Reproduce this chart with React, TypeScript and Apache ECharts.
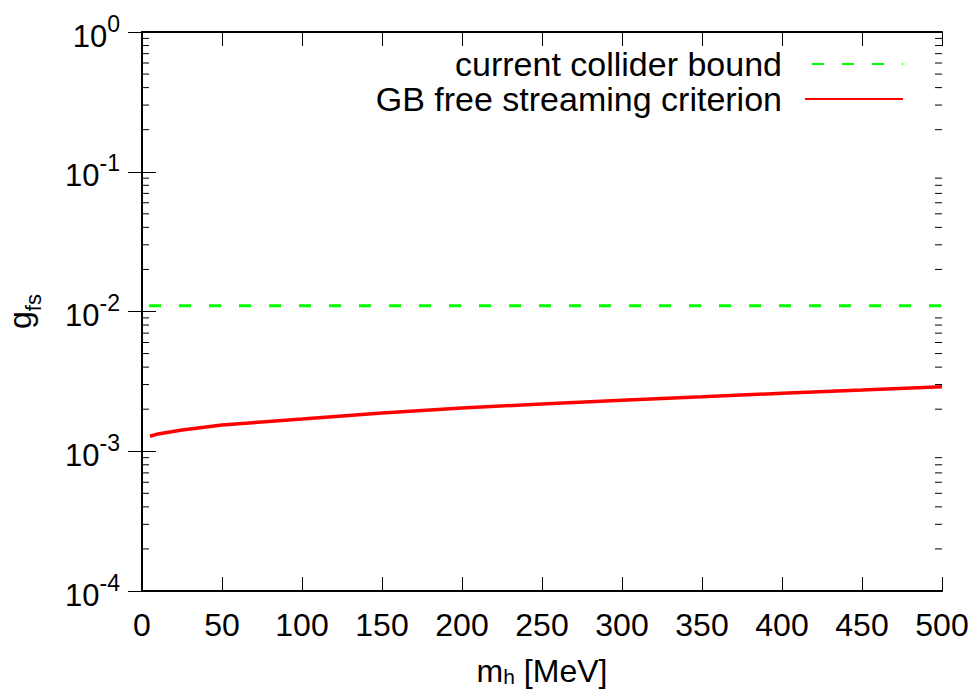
import React, { useEffect, useRef } from "react";
import * as echarts from "echarts";

const FONT = "'Liberation Sans', Arial, Helvetica, sans-serif";

// x values (m_h in MeV)
const colliderX = [0, 500];
const colliderBound = [0.011, 0.011];

const massMeV = [5, 10, 25, 50, 75, 100, 150, 200, 250, 300, 350, 400, 450, 500];
const gbCriterion = [
  0.00128, 0.00133, 0.00142, 0.00154, 0.00162, 0.0017, 0.00188, 0.00204,
  0.00218, 0.00232, 0.00245, 0.0026, 0.00274, 0.0029,
];

const xTicks = [0, 50, 100, 150, 200, 250, 300, 350, 400, 450, 500];
const yDecades = [-4, -3, -2, -1, 0];

const seriesNames = ["current collider bound", "GB free streaming criterion"];

export default function App() {
  const ref = useRef<HTMLDivElement>(null);

  useEffect(() => {
    if (!ref.current) return;
    const chart = echarts.init(ref.current, undefined, { renderer: "svg" });

    const yLabelRich = {
      b: { fontSize: 31, fontFamily: FONT, color: "#000", lineHeight: 40, padding: [8, 0, 0, 0] },
      s: { fontSize: 23, fontFamily: FONT, color: "#000", verticalAlign: "top", lineHeight: 23 },
    };

    const axisLine = { show: true, lineStyle: { color: "#000", width: 2 } };
    const axisTick = { show: true, inside: true, length: 14, lineStyle: { color: "#000", width: 1 } };

    const legendCommon = {
      right: 67,
      align: "right",
      itemWidth: 98,
      itemHeight: 2,
      itemStyle: { opacity: 0 },
      textStyle: { fontSize: 34, fontFamily: FONT, color: "#000", padding: [0, 18, 0, 0] },
      selectedMode: false,
    };

    const option: any = {
      animation: false,
      backgroundColor: "#fff",
      grid: { left: 142, right: 34, top: 32, bottom: 99, containLabel: false, outerBoundsMode: "none" },
      xAxis: [
        {
          type: "value",
          min: xTicks[0],
          max: xTicks[xTicks.length - 1],
          interval: 50,
          position: "bottom",
          axisLine,
          axisTick,
          splitLine: { show: false },
          axisLabel: { fontSize: 32, fontFamily: FONT, color: "#000", margin: 18 },
          name: "{m|m}{s|h}{m| [MeV]}",
          nameLocation: "middle",
          nameGap: 64,
          nameTextStyle: {
            rich: {
              m: { fontSize: 32, fontFamily: FONT, color: "#000", lineHeight: 30, verticalAlign: "top" },
              s: { fontSize: 21, fontFamily: FONT, color: "#000", verticalAlign: "bottom", lineHeight: 21, padding: [0, 0, -2, 0] },
            },
          },
        },
        {
          type: "value",
          min: xTicks[0],
          max: xTicks[xTicks.length - 1],
          interval: 50,
          position: "top",
          axisLine,
          axisTick,
          splitLine: { show: false },
          axisLabel: { show: false },
        },
      ],
      yAxis: [
        {
          type: "log",
          logBase: 10,
          min: 1e-4,
          max: 1,
          position: "left",
          axisLine,
          axisTick,
          splitLine: { show: false },
          axisLabel: {
            margin: 22,
            formatter: (v: number) => {
              const e = Math.round(Math.log10(v));
              return "{b|10}{s|" + e + "}";
            },
            rich: yLabelRich,
          },
          name: "{g|g}{s|fs}",
          nameLocation: "middle",
          nameRotate: 90,
          nameGap: 104,
          nameTextStyle: {
            rich: {
              g: { fontSize: 32, fontFamily: FONT, color: "#000", lineHeight: 34, verticalAlign: "top" },
              s: { fontSize: 22, fontFamily: FONT, color: "#000", verticalAlign: "bottom", lineHeight: 22, padding: [0, 0, -6, 0] },
            },
          },
        },
        {
          type: "log",
          logBase: 10,
          min: 1e-4,
          max: 1,
          position: "right",
          axisLine,
          axisTick,
          splitLine: { show: false },
          axisLabel: { show: false },
        },
      ],
      legend: [
        { ...legendCommon, data: [seriesNames[0]], top: 42 },
        { ...legendCommon, data: [seriesNames[1]], top: 77 },
      ],
      series: [
        {
          name: seriesNames[0],
          type: "line",
          xAxisIndex: 0,
          yAxisIndex: 0,
          data: colliderX.map((x, i) => [x, colliderBound[i]]),
          symbol: "none",
          showSymbol: false,
          itemStyle: { color: "#00ff00" },
          lineStyle: { color: "#00ff00", width: 3, type: [12, 18], dashOffset: 23 },
        },
        {
          name: seriesNames[1],
          type: "line",
          xAxisIndex: 0,
          yAxisIndex: 0,
          data: massMeV.map((x, i) => [x, gbCriterion[i]]),
          symbol: "none",
          showSymbol: false,
          smooth: false,
          itemStyle: { color: "#ff0000" },
          lineStyle: { color: "#ff0000", width: 3.5 },
        },
      ],
    };

    chart.setOption(option);

    // Minor log ticks (2..9 in each decade), placed through the axis scale
    const xl = chart.convertToPixel({ xAxisIndex: 0 }, xTicks[0]) as number;
    const xr = chart.convertToPixel({ xAxisIndex: 0 }, xTicks[xTicks.length - 1]) as number;
    const minor: any[] = [];
    for (let d = 0; d < yDecades.length - 1; d++) {
      for (let k = 2; k <= 9; k++) {
        const v = k * Math.pow(10, yDecades[d]);
        const py = chart.convertToPixel({ yAxisIndex: 0 }, v) as number;
        minor.push({
          type: "line",
          shape: { x1: xl, y1: py, x2: xl + 7, y2: py },
          style: { stroke: "#000", lineWidth: 1 },
          silent: true,
        });
        minor.push({
          type: "line",
          shape: { x1: xr - 7, y1: py, x2: xr, y2: py },
          style: { stroke: "#000", lineWidth: 1 },
          silent: true,
        });
      }
    }
    chart.setOption({ graphic: minor });

    return () => chart.dispose();
  }, []);

  return (
    <div
      ref={ref}
      style={{ position: "fixed", left: 0, top: 0, width: 976, height: 690, background: "#fff" }}
    />
  );
}
